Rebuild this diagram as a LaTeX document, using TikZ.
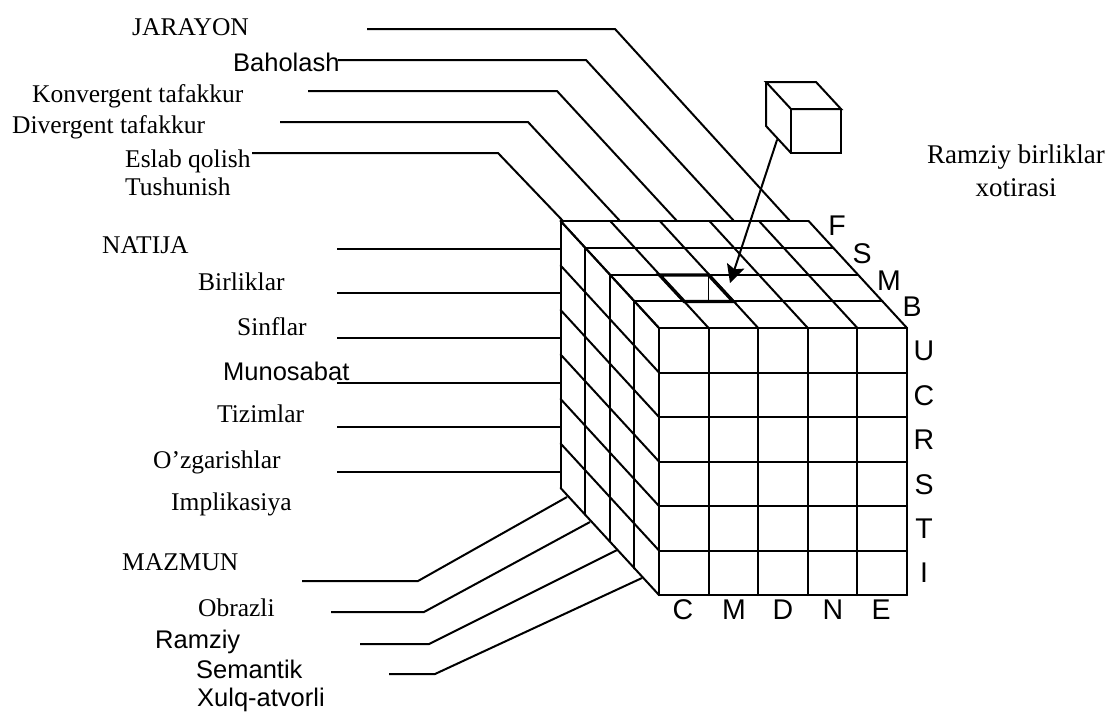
\documentclass[tikz,border=0pt]{standalone}
\usepackage{fontspec}
\setmainfont{Liberation Serif}
\newfontfamily\arialf{Liberation Sans}
\usetikzlibrary{arrows.meta}
\begin{document}
\begin{tikzpicture}[x=1pt,y=-1pt,
  ln/.style={line width=2pt, line cap=round, line join=miter},
  gridln/.style={line width=2pt, line cap=round},
  boldcell/.style={line width=3.4pt, line join=miter},
  tlab/.style={anchor=base west, inner sep=0pt, font=\fontsize{25.5}{30}\selectfont},
  alab/.style={anchor=base west, inner sep=0pt, font=\arialf\fontsize{25.5}{30}\selectfont},
  letter/.style={inner sep=0pt, font=\arialf\fontsize{28.5}{32}\selectfont},
  note/.style={inner sep=0pt, align=center, font=\fontsize{27}{33}\selectfont},
]
\useasboundingbox (0,0) rectangle (1109,713);
\def\cw{49.6}
\def\rh{44.5}
\def\ddx{24.6}
\def\ddy{26.75}
% ---------- big cube ----------
% front face
\foreach \i in {0,...,6} \draw[gridln] (659,{328+\i*\rh}) -- (907,{328+\i*\rh});
\foreach \j in {0,...,5} \draw[gridln] ({659+\j*\cw},328) -- ({659+\j*\cw},595);
% top face
\foreach \k in {0,...,4} \draw[gridln] ({659-\k*\ddx},{328-\k*\ddy}) -- ({907-\k*\ddx},{328-\k*\ddy});
\foreach \j in {0,...,5} \draw[gridln] ({659+\j*\cw},328) -- ({659+\j*\cw-4*\ddx},221);
% left face
\foreach \k in {0,...,4} \draw[gridln] ({659-\k*\ddx},{328-\k*\ddy}) -- ({659-\k*\ddx},{595-\k*\ddy});
\foreach \i in {0,...,6} \draw[gridln] (659,{328+\i*\rh}) -- (560.6,{221+\i*\rh});
% highlighted cell
\coordinate (hc1) at (659.6,275);
\coordinate (hc2) at (708.6,275);
\coordinate (hc3) at (733.2,301.5);
\coordinate (hc4) at (684.2,301.5);
\draw[line width=1.2pt] (hc2) -- (708.6,301.5);
\draw[boldcell] (hc1) -- (hc2) -- (hc3) -- (hc4) -- cycle;
% ---------- small cube ----------
\coordinate (s1) at (766,82);
\coordinate (s2) at (816,82);
\coordinate (s3) at (841,109);
\coordinate (s4) at (791,109);
\coordinate (s5) at (841,153);
\coordinate (s6) at (791,153);
\coordinate (s7) at (766,126);
\draw[ln, line join=miter] (s1) -- (s2) -- (s3) -- (s4) -- cycle;
\draw[ln] (s4) -- (s6) -- (s5) -- (s3);
\draw[ln] (s1) -- (s7) -- (s6);
% arrow
\coordinate (arS) at (777,140);
\coordinate (arE) at (730,283);
\draw[ln, -{Stealth[length=18pt,width=18pt,inset=3.5pt]}] (arS) -- (arE);
% ---------- labels right ----------
\node[note] (ramz) at (1016,171) {Ramziy birliklar\\xotirasi};
\node[letter] (lF) at (837,226) {F};
\node[letter] (lS) at (862,254) {S};
\node[letter] (lM) at (889,281) {M};
\node[letter] (lB) at (912,307) {B};
\node[letter] (lU) at (924,351) {U};
\node[letter] (lC) at (924,396) {C};
\node[letter] (lR) at (924,440) {R};
\node[letter] (lS2) at (924,485) {S};
\node[letter] (lT) at (924,529) {T};
\node[letter] (lI) at (924,573) {I};
\node[letter] (bC) at (683,610) {C};
\node[letter] (bM) at (734,610) {M};
\node[letter] (bD) at (783,610) {D};
\node[letter] (bN) at (833,610) {N};
\node[letter] (bE) at (881,610) {E};
% ---------- top labels & leaders ----------
\node[tlab] (jar) at (132,35) {JARAYON};
\node[alab] (bah) at (233,71) {Baholash};
\node[tlab] (kon) at (32,102) {Konvergent tafakkur};
\node[tlab] (div) at (12,133) {Divergent tafakkur};
\node[tlab] (esl) at (125,167) {Eslab qolish};
\node[tlab] (tus) at (125,195) {Tushunish};
\coordinate (t1a) at (367,29);  \coordinate (t1b) at (615,29);  \coordinate (t1c) at (790,221);
\coordinate (t2a) at (338,60);  \coordinate (t2b) at (586,60);  \coordinate (t2c) at (734,221);
\coordinate (t3a) at (308,91);  \coordinate (t3b) at (557,91);  \coordinate (t3c) at (677,221);
\coordinate (t4a) at (280,122); \coordinate (t4b) at (528,122); \coordinate (t4c) at (620,221);
\coordinate (t5a) at (252,153); \coordinate (t5b) at (498,153); \coordinate (t5c) at (563,221);
\foreach \n in {1,...,5} \draw[ln, line cap=butt] (t\n a) -- (t\n b) -- (t\n c);
% ---------- middle labels & leaders ----------
\node[tlab] (nat) at (102,253) {NATIJA};
\node[tlab] (bir) at (198,290) {Birliklar};
\node[tlab] (sin) at (237,335) {Sinflar};
\node[alab] (mun) at (223,380) {Munosabat};
\node[tlab] (tiz) at (217,422) {Tizimlar};
\node[tlab] (ozg) at (153,468) {O’zgarishlar};
\node[tlab] (imp) at (171,510) {Implikasiya};
\foreach \n/\yy in {1/249,2/293,3/338,4/383,5/427,6/472}{
  \coordinate (na\n) at (337,\yy);
  \coordinate (nb\n) at (560.6,\yy);
  \draw[ln, line cap=butt] (na\n) -- (nb\n);
}
% ---------- bottom labels & leaders ----------
\node[tlab] (maz) at (122,570) {MAZMUN};
\node[tlab] (obr) at (198,616) {Obrazli};
\node[alab] (ram) at (155,648) {Ramziy};
\node[alab] (sem) at (196,678) {Semantik};
\node[alab] (xul) at (197,706) {Xulq-atvorli};
\coordinate (m1a) at (302,581); \coordinate (m1b) at (418,581); \coordinate (m1c) at (567,497);
\coordinate (m2a) at (331,612); \coordinate (m2b) at (424,612); \coordinate (m2c) at (590,522);
\coordinate (m3a) at (360,644); \coordinate (m3b) at (429,644); \coordinate (m3c) at (617,550);
\coordinate (m4a) at (389,674); \coordinate (m4b) at (435,674); \coordinate (m4c) at (642,578);
\foreach \n in {1,...,4} \draw[ln, line cap=butt] (m\n a) -- (m\n b) -- (m\n c);
\end{tikzpicture}
\end{document}
